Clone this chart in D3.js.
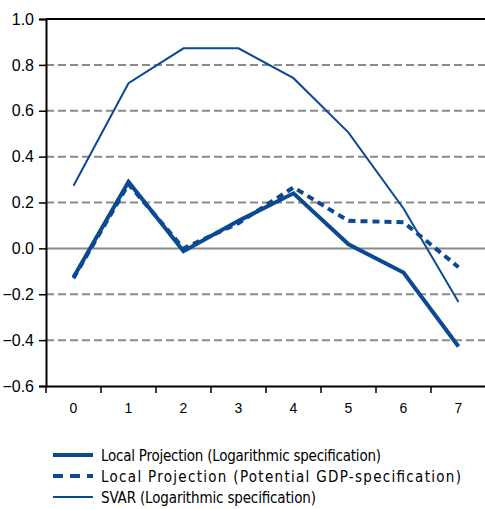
<!DOCTYPE html>
<html>
<head>
<meta charset="utf-8">
<script src="https://cdn.jsdelivr.net/npm/d3@7"></script>
<style>
  body { margin: 0; background: #fff; }
  svg { display: block; }
</style>
</head>
<body>
<div id="chart"></div>
<script>
const horizons = ['0', '1', '2', '3', '4', '5', '6', '7']
const lpLog = [-0.126, 0.29, -0.012, 0.12, 0.24, 0.018, -0.105, -0.428]
const lpPotential = [-0.13, 0.28, 0.0, 0.11, 0.266, 0.12, 0.114, -0.082]
const svarLog = [0.273, 0.72, 0.872, 0.872, 0.742, 0.505, 0.174, -0.234]
const yTicks = [1.0, 0.8, 0.6, 0.4, 0.2, 0.0, -0.2, -0.4, -0.6]
const legendLabels = [
  'Local Projection (Logarithmic specification)',
  'Local Projection (Potential GDP-specification)',
  'SVAR (Logarithmic specification)'
]

const blue = '#0b4a93'
const margin = { top: 19, left: 46, right: -1, bottom: 123 }
const totalW = 485
const totalH = 509
const width = totalW - margin.left - margin.right
const height = totalH - margin.top - margin.bottom

const svg = d3
  .select('#chart')
  .append('svg')
  .attr('width', totalW)
  .attr('height', totalH)
  .append('g')
  .attr('transform', 'translate(' + margin.left + ',' + margin.top + ')')

const xPositionScale = d3.scaleBand().domain(horizons).range([0, width])
const yPositionScale = d3.scaleLinear().domain([-0.6, 1.0]).range([height, 0])

// gridlines
svg
  .selectAll('.grid')
  .data(yTicks.filter(d => d > -0.6 && d < 1.0))
  .enter()
  .append('line')
  .attr('class', 'grid')
  .attr('x1', 0)
  .attr('x2', width)
  .attr('y1', d => yPositionScale(d))
  .attr('y2', d => yPositionScale(d))
  .attr('stroke', '#8a8a8a')
  .attr('stroke-width', 2)
  .attr('stroke-dasharray', d => (d === 0 ? null : '8,4'))

// top border
svg
  .append('line')
  .attr('x1', 0)
  .attr('x2', width)
  .attr('y1', 0)
  .attr('y2', 0)
  .attr('stroke', '#000')
  .attr('stroke-width', 2)

const line = d3
  .line()
  .x((d, i) => xPositionScale(horizons[i]) + xPositionScale.bandwidth() / 2)
  .y(d => yPositionScale(d))

svg
  .append('path')
  .datum(svarLog)
  .attr('d', line)
  .attr('fill', 'none')
  .attr('stroke', blue)
  .attr('stroke-width', 2)

svg
  .append('path')
  .datum(lpPotential)
  .attr('d', line)
  .attr('fill', 'none')
  .attr('stroke', blue)
  .attr('stroke-width', 4)
  .attr('stroke-dasharray', '7,5')

svg
  .append('path')
  .datum(lpLog)
  .attr('d', line)
  .attr('fill', 'none')
  .attr('stroke', blue)
  .attr('stroke-width', 4)
  .attr('stroke-linejoin', 'miter')

// axes
const yAxis = d3
  .axisLeft(yPositionScale)
  .tickValues(yTicks)
  .tickFormat(d3.format('.1f'))
  .tickSize(7)
  .tickPadding(5)

svg
  .append('g')
  .attr('class', 'axis y-axis')
  .call(yAxis)

const xAxis = d3.axisBottom(xPositionScale).tickSize(0).tickPadding(17)

const xg = svg
  .append('g')
  .attr('class', 'axis x-axis')
  .attr('transform', 'translate(0,' + height + ')')
  .call(xAxis)

// x ticks on category boundaries
xg.selectAll('.boundary')
  .data(horizons.slice(1))
  .enter()
  .append('line')
  .attr('class', 'boundary')
  .attr('x1', d => xPositionScale(d))
  .attr('x2', d => xPositionScale(d))
  .attr('y1', 0)
  .attr('y2', 7)
  .attr('stroke', '#000')
  .attr('stroke-width', 1.5)

xg.append('line')
  .attr('x1', 0)
  .attr('x2', 0)
  .attr('y1', 0)
  .attr('y2', 7)
  .attr('stroke', '#000')
  .attr('stroke-width', 1.5)

svg.selectAll('.axis .domain').attr('stroke', '#000').attr('stroke-width', 2)
svg.selectAll('.y-axis .tick line').attr('stroke', '#000').attr('stroke-width', 1.5)
svg
  .selectAll('.axis text')
  .attr('font-family', "'Liberation Sans Narrow', 'Arial Narrow', 'Liberation Sans', sans-serif")
  .attr('font-size', 16)
  .attr('fill', '#000')
svg.selectAll('.x-axis text').attr('font-size', 14)

// legend
const legend = svg
  .append('g')
  .attr('transform', 'translate(' + (53 - margin.left) + ',' + (455 - margin.top) + ')')

const legendWidths = [280, 360, 215]
const legendItems = legend
  .selectAll('.legend-item')
  .data(legendLabels)
  .enter()
  .append('g')
  .attr('class', 'legend-item')
  .attr('transform', (d, i) => 'translate(0,' + i * 21 + ')')

legendItems
  .append('line')
  .attr('x1', 0)
  .attr('x2', 40)
  .attr('y1', 0)
  .attr('y2', 0)
  .attr('stroke', blue)
  .attr('stroke-width', (d, i) => (i === 2 ? 2 : 4))
  .attr('stroke-dasharray', (d, i) => (i === 1 ? '10,7' : null))

legendItems
  .append('text')
  .attr('x', 48)
  .attr('y', 6)
  .attr('font-family', "'DejaVu Sans Condensed', 'DejaVu Sans', sans-serif")
  .attr('font-size', 15)
  .attr('fill', '#000')
  .attr('textLength', (d, i) => legendWidths[i])
  .attr('lengthAdjust', 'spacing')
  .text(d => d)
</script>
</body>
</html>
